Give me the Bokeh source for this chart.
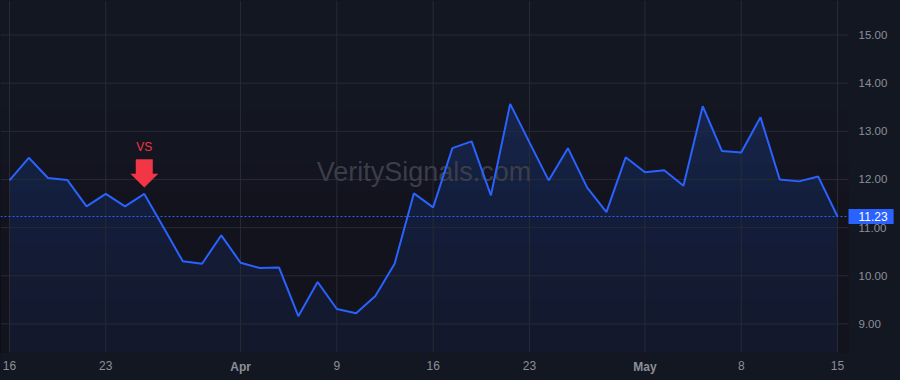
import numpy as np
import pandas as pd
from bokeh.plotting import figure
from bokeh.models import FixedTicker, NumeralTickFormatter, Label, Range1d
from bokeh.embed import file_html
from bokeh.resources import INLINE

# ---------------- data ----------------
holidays = ["2026-04-03"]
dates = [d for d in pd.bdate_range("2026-03-16", "2026-05-15") if d.strftime("%Y-%m-%d") not in holidays]

values = [11.98, 12.45, 12.03, 11.99, 11.44, 11.70, 11.44, 11.70, 11.00, 10.30,
          10.25, 10.84, 10.27, 10.16, 10.17, 9.16, 9.87, 9.31, 9.22, 9.58,
          10.25, 11.71, 11.42, 12.65, 12.79, 11.67, 13.57, 12.77, 11.98, 12.65,
          11.83, 11.32, 12.46, 12.15, 12.19, 11.87, 13.52, 12.59, 12.56, 13.29,
          12.00, 11.96, 12.06, 11.23]

tick_dates = ["2026-03-16", "2026-03-23", "2026-04-01", "2026-04-09", "2026-04-16",
              "2026-04-23", "2026-05-01", "2026-05-08", "2026-05-15"]
tick_labels = ["16", "23", "Apr", "9", "16", "23", "May", "8", "15"]
month_labels = ["Apr", "May"]
y_ticks = [9, 10, 11, 12, 13, 14, 15]

signal_date = "2026-03-25"
signal_text = "VS"
last_price = values[-1]
watermark = "VeritySignals.com"

# ---------------- style ----------------
BG = "#131722"
GRID = "#272b36"
LINE = "#2962ff"
TXT = "#8c8f99"
RED = "#f23645"
FONT = "Liberation Sans"

W, H = 900, 380
PW, PH = 848, 352          # plotting area (pixels) inside the canvas
XPX = 19.256               # pixels per trading day
YPX = 48.15                # pixels per price unit
x0 = -9 / XPX
x1 = x0 + W / XPX
y1 = 15 + 34.5 / YPX
y0 = y1 - H / YPX

def sx(px):  # canvas pixel -> data x
    return x0 + px / XPX

def sy(py):  # canvas pixel (from top) -> data y
    return y1 - py / YPX

XR = sx(PW)   # right edge of plotting area (data)
YB = sy(PH)   # bottom edge of plotting area (data)

idx = list(range(len(values)))
date_str = [d.strftime("%Y-%m-%d") for d in dates]
tick_idx = [date_str.index(t) for t in tick_dates]

p = figure(width=W, height=H, output_backend="svg", toolbar_location=None,
           x_range=Range1d(x0, x1), y_range=Range1d(y0, y1),
           y_axis_location="right", title_location=None,
           min_border=0, min_border_left=0, min_border_right=0,
           min_border_top=0, min_border_bottom=0,
           background_fill_color=BG, border_fill_color=BG,
           outline_line_color=None)
p.grid.visible = False

# area fill with vertical fade
p.varea(x=idx, y1=YB, y2=values, fill_color=LINE, fill_alpha=0.2, level="image")
top_fade = 14.0
n_bands = 10
levels = np.linspace(YB, top_fade, n_bands + 1)[:-1]
p.quad(left=x0, right=XR, bottom=YB, top=levels, fill_color=BG, fill_alpha=0.1,
       line_color=None, level="image")

# grid lines (limited to the plotting area)
p.segment(x0=tick_idx, y0=[YB] * len(tick_idx), x1=tick_idx, y1=[y1] * len(tick_idx),
          line_color=GRID, line_width=1, level="underlay")
p.segment(x0=[x0] * len(y_ticks), y0=y_ticks, x1=[XR] * len(y_ticks), y1=y_ticks,
          line_color=GRID, line_width=1, level="underlay")

# watermark
p.add_layout(Label(x=sx(423.5), y=sy(171.5),
                   text=watermark, text_font=FONT, text_font_size="27px",
                   text_color="#3b3e49", text_align="center", text_baseline="middle",
                   level="underlay"))

# price line
p.segment(x0=[x0], y0=[last_price], x1=[XR], y1=[last_price], line_color=LINE,
          line_width=1, line_dash="2 2")

# series line
p.line(idx, values, line_color=LINE, line_width=2)

# signal marker
si = date_str.index(signal_date)
sv = values[si]
ax = [0, -13.5, -8.3, -8.3, 8.3, 8.3, 13.5]
ay = [6.6, 20, 20, 34.3, 34.3, 20, 20]
p.patch([si + a / XPX for a in ax], [sv + b / YPX for b in ay],
        fill_color=RED, line_color=RED, line_width=0.5)
p.add_layout(Label(x=si, y=sv + 46.6 / YPX, text=signal_text, text_font=FONT,
                   text_font_size="12px", text_color=RED, text_align="center",
                   text_baseline="middle"))

# axes (placed at the edges of the plotting area)
xa = p.xaxis[0]
xa.fixed_location = YB
xa.ticker = FixedTicker(ticks=tick_idx)
xa.major_label_overrides = {i: ("" if lab in month_labels else lab)
                            for i, lab in zip(tick_idx, tick_labels)}
xa.axis_line_color = None
xa.major_tick_line_color = None
xa.minor_tick_line_color = None
xa.major_tick_out = 0
xa.major_tick_in = 0
xa.major_label_standoff = 8
xa.major_label_text_color = TXT
xa.major_label_text_font = FONT
xa.major_label_text_font_size = "12px"

for i, lab in zip(tick_idx, tick_labels):
    if lab in month_labels:
        p.add_layout(Label(x=i, y=sy(359), text=lab,
                           text_font=FONT, text_font_size="12px", text_font_style="bold",
                           text_color=TXT, text_align="center", text_baseline="top"))

ya = p.yaxis[0]
ya.fixed_location = XR
ya.ticker = FixedTicker(ticks=y_ticks)
ya.formatter = NumeralTickFormatter(format="0.00")
ya.axis_line_color = None
ya.major_tick_line_color = None
ya.minor_tick_line_color = None
ya.major_tick_out = 0
ya.major_tick_in = 0
ya.major_label_standoff = 10
ya.major_label_text_color = TXT
ya.major_label_text_font = FONT
ya.major_label_text_font_size = "11.5px"

# last price tag
p.add_layout(Label(x=XR, y=last_price,
                   text=f"{last_price:.2f}", text_font=FONT, text_font_size="12px",
                   text_color="white", text_align="left", text_baseline="middle",
                   background_fill_color=LINE,
                   padding=dict(left=10, right=6, top=3, bottom=3)))

html = file_html(p, INLINE)
html = html.replace("<head>", "<head><style>html,body{margin:0;padding:0;background:%s;}</style>" % BG, 1)
open("out.html", "w").write(html)
